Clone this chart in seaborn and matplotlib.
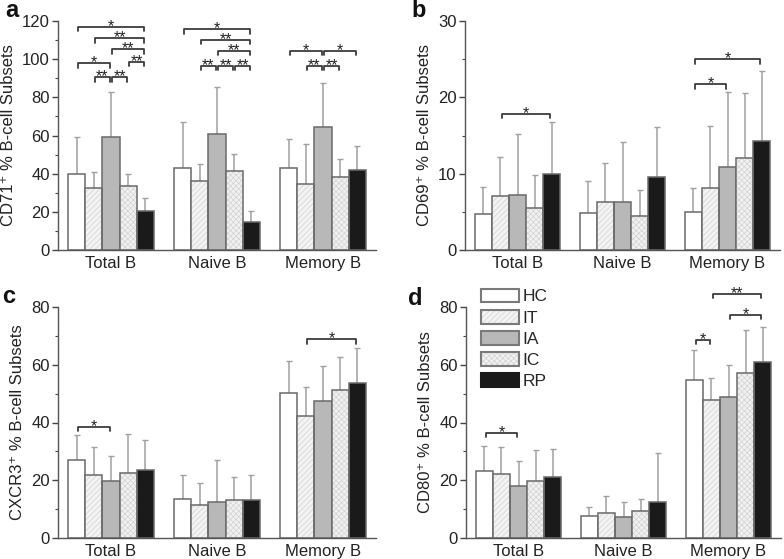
import numpy as np
import pandas as pd
import matplotlib
matplotlib.use('Agg')
import matplotlib.pyplot as plt
import seaborn as sns
from matplotlib.patches import Rectangle, Patch
from matplotlib.ticker import MultipleLocator

categories = ['Total B', 'Naive B', 'Memory B']
groups = ['HC', 'IT', 'IA', 'IC', 'RP']

# rows = categories, columns = groups (HC, IT, IA, IC, RP)
cd71_mean = [[40.0, 32.5, 59.4, 33.6, 20.5],
             [42.8, 36.0, 60.8, 41.6, 14.7],
             [42.8, 34.6, 64.7, 38.3, 42.0]]
cd71_sd = [[19.3, 8.2, 23.3, 6.4, 6.9],
           [24.3, 9.3, 24.7, 8.6, 5.9],
           [15.4, 21.0, 22.7, 9.4, 12.4]]

cd69_mean = [[4.7, 7.1, 7.2, 5.5, 10.0],
             [4.8, 6.3, 6.3, 4.5, 9.5],
             [5.0, 8.1, 10.9, 12.0, 14.3]]
cd69_sd = [[3.6, 5.1, 8.0, 4.3, 6.8],
           [4.2, 5.1, 7.9, 3.4, 6.6],
           [3.1, 8.1, 9.8, 8.6, 9.1]]

cxcr3_mean = [[26.9, 21.7, 19.6, 22.5, 23.6],
              [13.4, 11.4, 12.6, 13.2, 13.0],
              [50.3, 42.4, 47.3, 51.2, 53.6]]
cxcr3_sd = [[8.8, 9.9, 8.9, 13.5, 10.5],
            [8.4, 7.7, 14.3, 8.0, 8.9],
            [10.9, 10.0, 12.1, 11.4, 12.3]]

cd80_mean = [[23.3, 22.3, 18.1, 19.7, 21.2],
             [7.6, 8.5, 7.4, 9.5, 12.4],
             [54.6, 47.7, 49.0, 57.2, 61.0]]
cd80_sd = [[8.7, 9.3, 8.6, 10.9, 9.6],
           [3.3, 6.0, 5.0, 4.1, 16.9],
           [10.6, 7.7, 10.9, 14.7, 12.0]]

# significance brackets: (category index, group a, group b, height, label)
cd71_sig = [(0, 0, 4, 117.0, '*'), (0, 1, 4, 110.9, '**'), (0, 2, 4, 105.2, '**'),
            (0, 0, 2, 97.8, '*'), (0, 3, 4, 98.7, '**'), (0, 1, 2, 90.5, '**'),
            (0, 2, 3, 90.5, '**'),
            (1, 0, 4, 115.6, '*'), (1, 1, 4, 110.0, '**'), (1, 2, 4, 104.5, '**'),
            (1, 1, 2, 96.4, '**'), (1, 2, 3, 96.4, '**'), (1, 3, 4, 96.4, '**'),
            (2, 0, 2, 104.3, '*'), (2, 2, 4, 104.3, '*'), (2, 1, 2, 96.4, '**'),
            (2, 2, 3, 96.4, '**')]
cd69_sig = [(0, 1, 4, 17.8, '*'), (2, 0, 2, 21.7, '*'), (2, 0, 4, 25.0, '*')]
cxcr3_sig = [(0, 0, 2, 38.5, '*'), (2, 1, 4, 68.8, '*')]
cd80_sig = [(0, 0, 2, 36.5, '*'), (2, 0, 1, 68.6, '*'), (2, 2, 4, 77.2, '*'),
            (2, 1, 4, 84.5, '**')]

palette = {'HC': '#ffffff', 'IT': '#f3f3f3', 'IA': '#b8b8b8', 'IC': '#f1f1f1', 'RP': '#1a1a1a'}
hatches = {'HC': '', 'IT': '//////', 'IA': '', 'IC': 'xxxxxx', 'RP': ''}
EDGE = '#6a6a6a'
HATCH = '#d2d2d2'

sns.set_theme(style='ticks')
plt.rcParams['font.family'] = ['Liberation Sans', 'DejaVu Sans']
plt.rcParams['hatch.linewidth'] = 0.5

W, H = 784, 559
fig = plt.figure(figsize=(W / 100, H / 100), dpi=100)


def ax_at(l, r, t, b):
    return fig.add_axes([l / W, 1 - b / H, (r - l) / W, (b - t) / H])


def draw(ax, means, sds, ymax, major, minor, ylabel, brackets):
    df = pd.DataFrame([{'cat': c, 'grp': g, 'val': means[i][j]}
                       for i, c in enumerate(categories) for j, g in enumerate(groups)])
    sns.barplot(data=df, x='cat', y='val', hue='grp', order=categories, hue_order=groups,
                palette=palette, errorbar=None, width=0.81, edgecolor=EDGE, linewidth=1.1,
                legend=False, saturation=1, ax=ax)
    centers = {}
    for j, (g, cont) in enumerate(zip(groups, ax.containers)):
        xs = []
        for i, bar in enumerate(cont):
            x = bar.get_x() + bar.get_width() / 2
            centers[(i, j)] = x
            xs.append(x)
            bar.set_zorder(2)
            if hatches[g]:
                bar.set_hatch(hatches[g])
                bar.set_edgecolor(HATCH)
                bar.set_linewidth(0)
                ax.add_patch(Rectangle((bar.get_x(), 0), bar.get_width(), bar.get_height(),
                                       fill=False, ec=EDGE, lw=1.1, zorder=2.1))
        ax.errorbar(xs, [means[i][j] for i in range(3)],
                    yerr=[np.zeros(3), [sds[i][j] for i in range(3)]],
                    fmt='none', ecolor='#a0a0a0', elinewidth=1.1, capsize=2.2, capthick=1.0,
                    zorder=1)
    tick = ymax * 0.019
    for (i, j1, j2, y, lab) in brackets:
        x1 = centers[(i, j1)] + 0.012
        x2 = centers[(i, j2)] - 0.012
        ax.plot([x1, x1, x2, x2], [y - tick, y, y, y - tick], color='#3c3c3c', lw=1.3,
                clip_on=False, zorder=3)
        ax.annotate(lab, ((x1 + x2) / 2, y), xytext=(0, -3.0),
                    textcoords='offset points', ha='center', va='baseline', fontsize=11.5,
                    color='#222222', annotation_clip=False)
    ax.set_xlim(-0.5, 2.5)
    ax.set_ylim(0, ymax)
    ax.yaxis.set_major_locator(MultipleLocator(major))
    ax.yaxis.set_minor_locator(MultipleLocator(minor))
    ax.tick_params(axis='y', which='major', length=4, width=1, color='#444444',
                   labelsize=12, pad=2, labelcolor='#222222')
    ax.tick_params(axis='y', which='minor', length=2.5, width=0.8, color='#444444')
    ax.tick_params(axis='x', length=0, labelsize=12, pad=4, labelcolor='#222222')
    ax.set_xlabel('')
    ax.set_ylabel(ylabel, fontsize=12, labelpad=4, color='#222222')
    for s in ('top', 'right'):
        ax.spines[s].set_visible(False)
    for s in ('left', 'bottom'):
        ax.spines[s].set_color('#555555')
        ax.spines[s].set_linewidth(1.0)
    return ax


axa = ax_at(58, 376, 21, 250)
draw(axa, cd71_mean, cd71_sd, 120, 20, 10, 'CD71⁺ % B-cell Subsets', cd71_sig)
axb = ax_at(465, 780, 21, 250)
draw(axb, cd69_mean, cd69_sd, 30, 10, 5, 'CD69⁺ % B-cell Subsets', cd69_sig)
axc = ax_at(58, 376, 307, 538)
draw(axc, cxcr3_mean, cxcr3_sd, 80, 20, 10, 'CXCR3⁺ % B-cell Subsets', cxcr3_sig)
axd = ax_at(466, 781, 307, 538)
draw(axd, cd80_mean, cd80_sd, 80, 20, 10, 'CD80⁺ % B-cell Subsets', cd80_sig)

handles = [Patch(facecolor=palette[g], edgecolor='#7a7a7a' if g != 'RP' else '#1a1a1a',
                 hatch=hatches[g], linewidth=1.5, label=g) for g in groups]
leg = axd.legend(handles=handles, loc='upper left', bbox_to_anchor=(0.048, 1.08), frameon=False,
                 fontsize=12.5, handlelength=2.2, handleheight=0.85, labelspacing=0.3,
                 handletextpad=0.2, borderpad=0, borderaxespad=0)
for p in leg.get_patches():
    if p.get_hatch():
        p.set_edgecolor(HATCH)
        p.set_linewidth(0)

for txt, x, y in [('a', 5, 17), ('b', 411, 17), ('c', 2, 303), ('d', 408, 305)]:
    fig.text(x / W, 1 - y / H, txt, fontsize=17, fontweight='bold', va='baseline',
             ha='left', color='#111111')

fig.canvas.draw()
# outline the hatched legend swatches in the same grey as the others
for p in leg.get_patches():
    if p.get_hatch():
        bb = p.get_window_extent()
        fig.patches.append(Rectangle((bb.x0, bb.y0), bb.width, bb.height, fill=False,
                                     ec='#7a7a7a', lw=1.5, transform=None, figure=fig))

fig.savefig('out.png', dpi=100)
